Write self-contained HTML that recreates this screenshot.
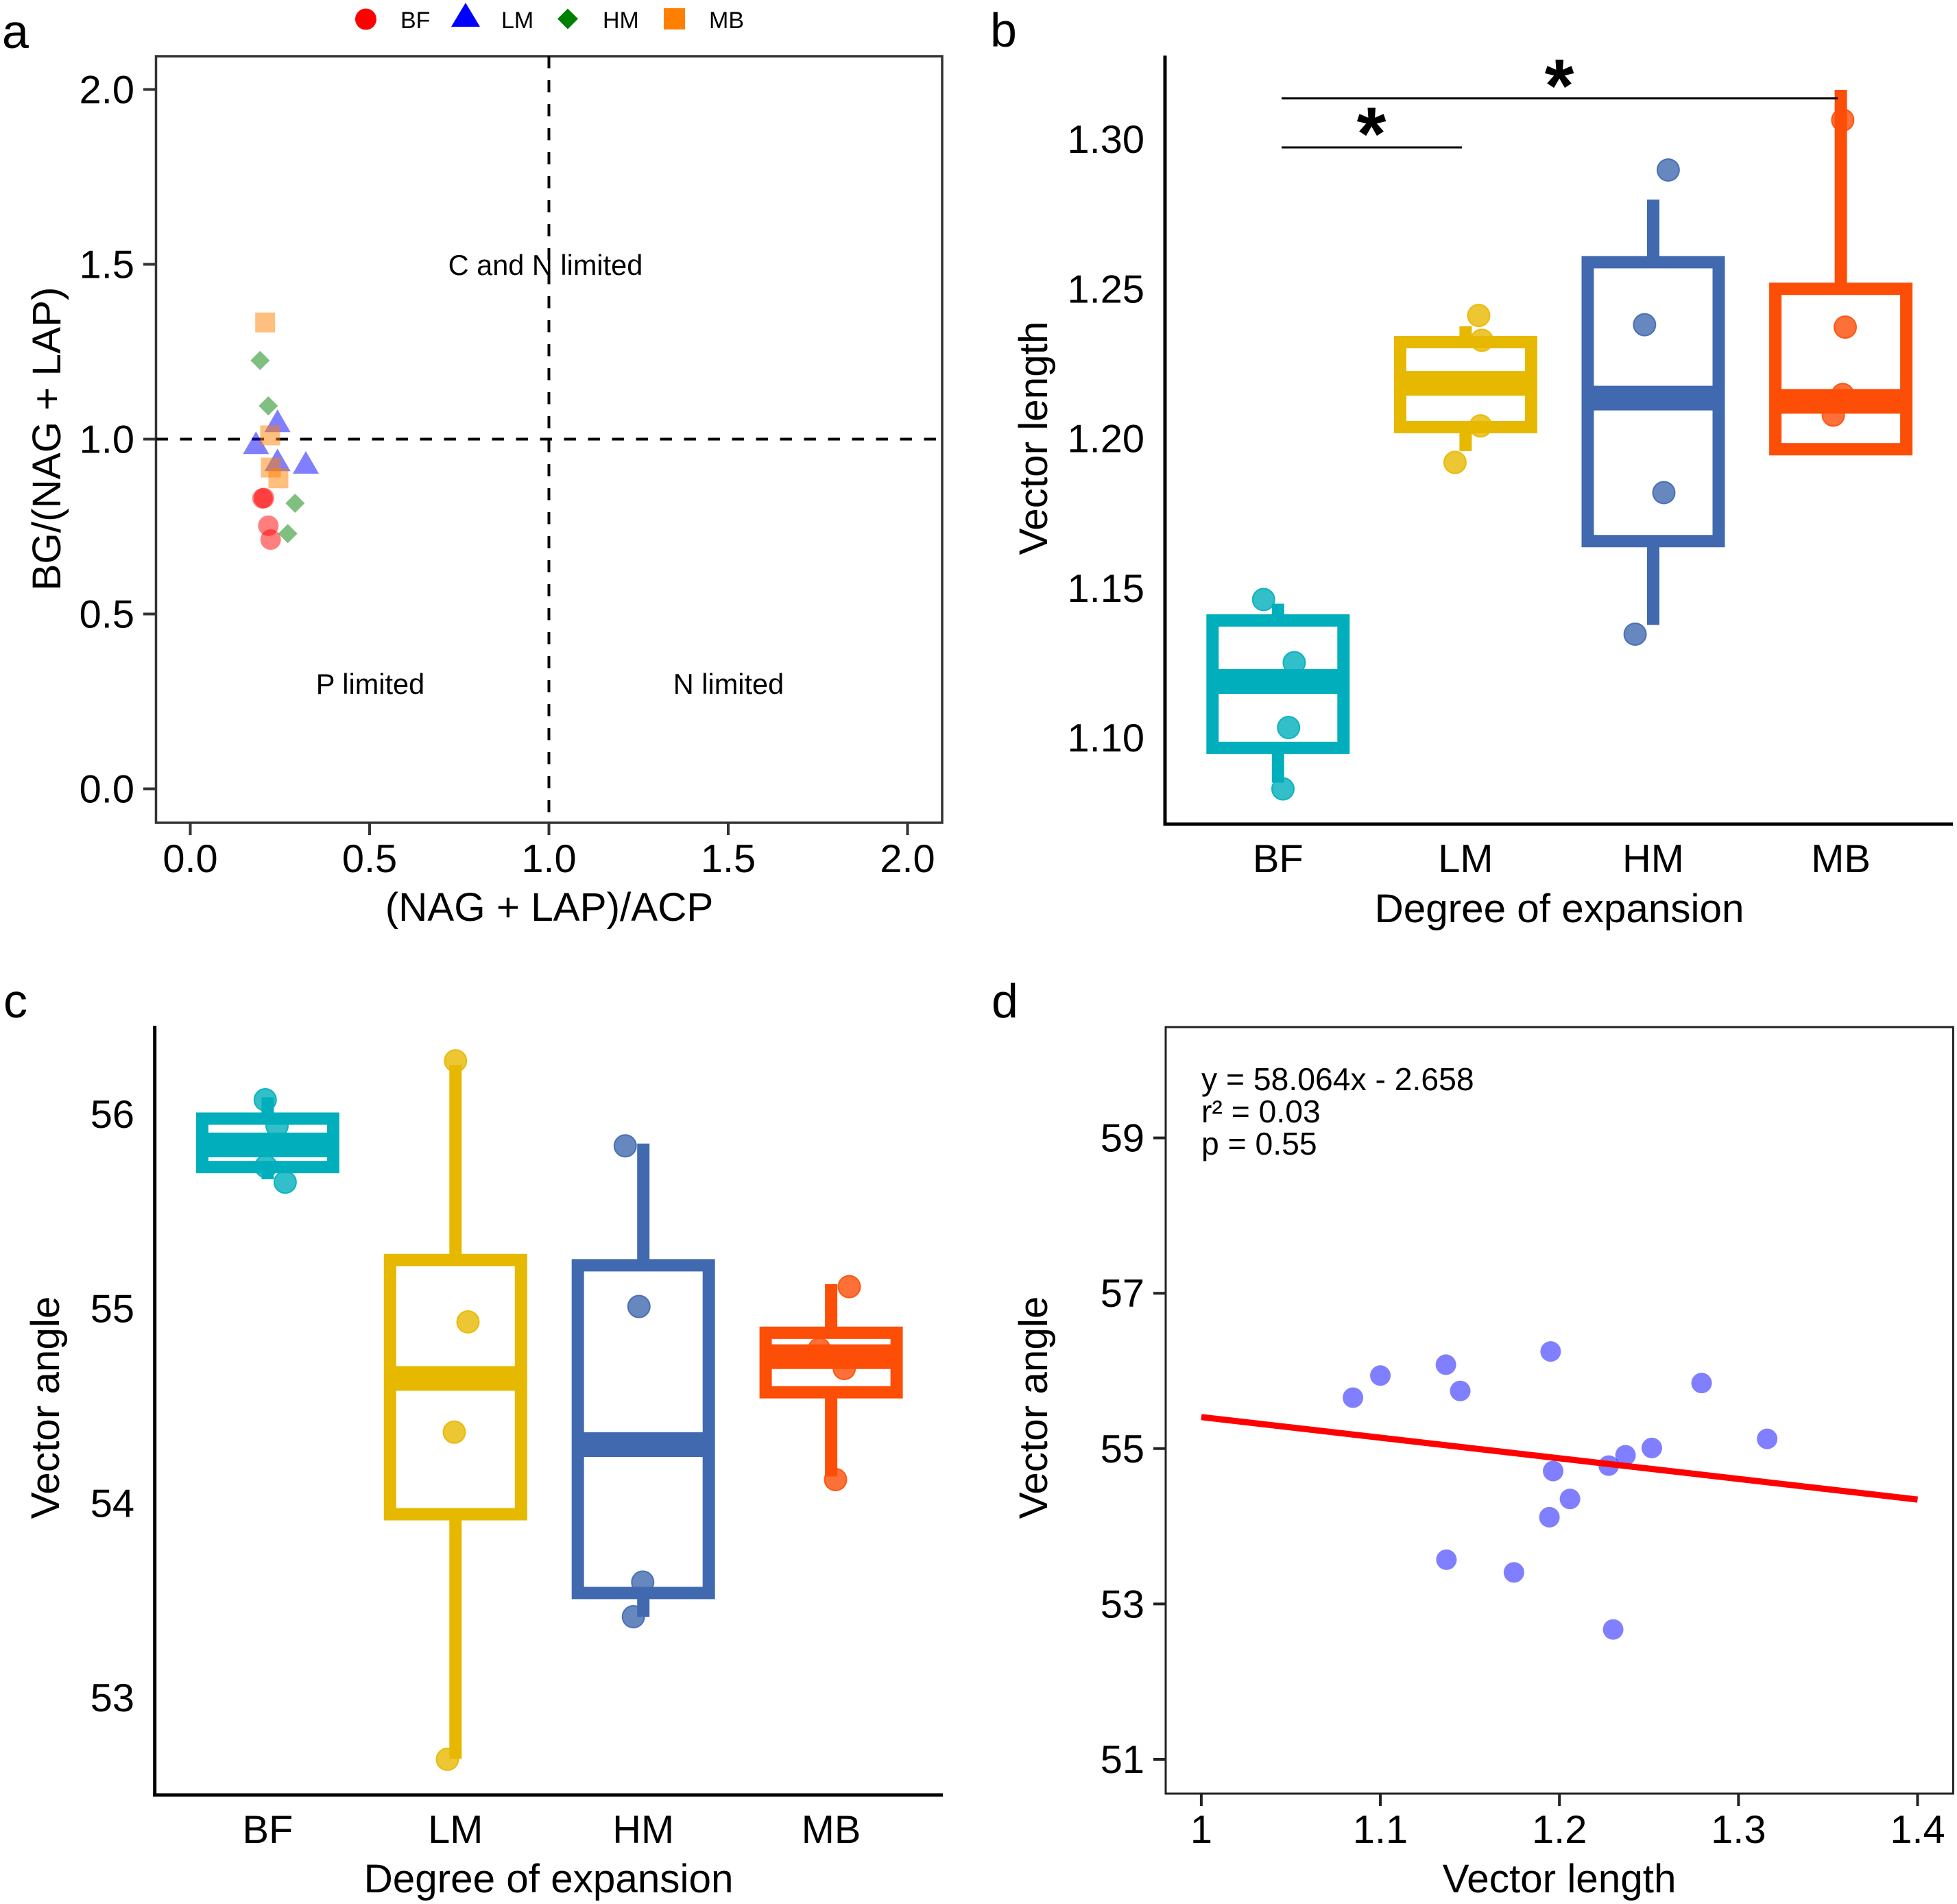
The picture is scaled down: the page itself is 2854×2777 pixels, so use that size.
<!DOCTYPE html>
<html lang="en">
<head>
<meta charset="utf-8">
<title>Enzyme stoichiometry and vector analysis</title>
<style>
html,body{margin:0;padding:0;background:#fff;}
svg{display:block;}
text{font-family:"Liberation Sans",Arial,sans-serif;fill:#000;}
</style>
</head>
<body>
<svg id="chart" xmlns="http://www.w3.org/2000/svg" width="2854" height="2777" viewBox="0 0 2854 2777">
<rect x="0" y="0" width="2854" height="2777" fill="#fff"/>
<g id="pa"></g>
<g id="pb"></g>
<g id="pc"></g>
<g id="pd"></g>
<text x="3" y="70" font-size="70">a</text>
<text x="1444" y="68" font-size="70">b</text>
<text x="5" y="1484" font-size="70">c</text>
<text x="1446" y="1484" font-size="70">d</text>
</svg>
<script>
// ---------- Panel a data ----------
const aTicks = [0, 0.5, 1, 1.5, 2];
const aTickLabels = ['0.0', '0.5', '1.0', '1.5', '2.0'];
const aBFx = [0.2015, 0.2055, 0.2176, 0.2241];
const aBFy = [0.8305, 0.8315, 0.7525, 0.7127];
const aLMx = [0.2432, 0.1832, 0.2432, 0.3222];
const aLMy = [1.0524, 0.9896, 0.9408, 0.9337];
const aHMx = [0.1946, 0.2176, 0.2922, 0.2719];
const aHMy = [1.2251, 1.0951, 0.8167, 0.7298];
const aMBx = [0.2088, 0.2228, 0.2247, 0.2457];
const aMBy = [1.3337, 1.0108, 0.9186, 0.8878];

// ---------- Box panels shared ----------
const categories = ['BF', 'LM', 'HM', 'MB'];
const boxColors = ['#00AFBB', '#E7B800', '#4169AF', '#FC4E07'];

// ---------- Panel b data ----------
const bTicks = [1.10, 1.15, 1.20, 1.25, 1.30];
const bTickLabels = ['1.10', '1.15', '1.20', '1.25', '1.30'];
const bQ1 = [1.0966, 1.2038, 1.1657, 1.1964];
const bMedian = [1.1188, 1.2184, 1.2135, 1.2124];
const bQ3 = [1.1392, 1.2322, 1.2589, 1.25];
const bLow = [1.085, 1.1958, 1.1377, 1.1964];
const bHigh = [1.1448, 1.2375, 1.2798, 1.3165];
const bPoints = [
  [1.1462, 1.1251, 1.1034, 1.0829],
  [1.2411, 1.2328, 1.2042, 1.192],
  [1.2897, 1.238, 1.1819, 1.1346],
  [1.3064, 1.2372, 1.2147, 1.2078]
];
const bJitter = [
  [-0.0768, 0.0863, 0.0563, 0.0263],
  [0.0698, 0.0866, 0.0797, -0.0566],
  [0.08, -0.0464, 0.0566, -0.0965],
  [0.01, 0.0234, 0.01, -0.04]
];

// ---------- Panel c data ----------
const cTicks = [53, 54, 55, 56];
const cTickLabels = ['53', '54', '55', '56'];
const cQ1 = [55.728, 53.943, 53.538, 54.57];
const cMedian = [55.842, 54.641, 54.301, 54.753];
const cQ3 = [55.977, 55.25, 55.223, 54.876];
const cLow = [55.665, 52.686, 53.415, 54.137];
const cHigh = [56.087, 56.252, 55.849, 55.126];
const cPoints = [
  [56.074, 55.94, 55.731, 55.65],
  [56.274, 54.932, 54.365, 52.683],
  [55.837, 55.011, 53.594, 53.416],
  [55.113, 54.792, 54.692, 54.121]
];
const cJitter = [
  [-0.0131, 0.0497, -0.0098, 0.0931],
  [0, 0.0664, -0.0066, -0.0431],
  [-0.0964, -0.0234, -0.0033, -0.0529],
  [0.0964, -0.0632, 0.0697, 0.0234]
];

// ---------- Panel d data ----------
const dXTicks = [1, 1.1, 1.2, 1.3, 1.4];
const dXTickLabels = ['1', '1.1', '1.2', '1.3', '1.4'];
const dYTicks = [51, 53, 55, 57, 59];
const dYTickLabels = ['51', '53', '55', '57', '59'];
const dX = [1.0847, 1.1, 1.1366, 1.1446, 1.1951, 1.2794, 1.316, 1.2516, 1.2369, 1.2275, 1.1965, 1.2059, 1.1944, 1.1369, 1.1746, 1.23];
const dY = [55.656, 55.94, 56.08, 55.742, 56.25, 55.844, 55.125, 55.008, 54.914, 54.781, 54.711, 54.352, 54.117, 53.57, 53.406, 52.672];
const dFitX = [1, 1.4];
const dFitY = [55.406, 54.344];

// ---------- Scales ----------
const ax = v => 277.5 + v * 523;
const ay = v => 1150.5 - v * 510;
const bx = i => 1863.8 + i * 273.6;
const by = v => 1076 - (v - 1.1) * 4365;
const cx = i => 390.4 + i * 273.9;
const cy = v => 1625 + (56 - v) * 283.67;
const dx = v => 1751.9 + (v - 1) * 2611.5;
const dy = v => 2112.8 - (v - 55) * 113.3;

// ---------- Helpers ----------
const NS = 'http://www.w3.org/2000/svg';
function mk(tag, attrs, parent, content) {
  const node = document.createElementNS(NS, tag);
  for (const k in attrs) node.setAttribute(k, attrs[k]);
  if (content !== undefined) node.textContent = content;
  parent.appendChild(node);
  return node;
}
const pa = document.getElementById('pa');
const pb = document.getElementById('pb');
const pc = document.getElementById('pc');
const pd = document.getElementById('pd');
const FS = 57.8;
const TITLE_FS = 58.4;
const CAP = 20;

function yTitle(parent, label, x, y, name) {
  const el = mk('text', {x: x, y: y, 'font-size': TITLE_FS, 'text-anchor': 'middle', transform: 'rotate(-90 ' + x + ' ' + y + ')'}, parent, label);
  
  
}
function xTitle(parent, label, x, y, name) {
  const el = mk('text', {x: x, y: y, 'font-size': TITLE_FS, 'text-anchor': 'middle'}, parent, label);
  
  
}
function tickLabel(parent, label, x, y, anchor, name) {
  const el = mk('text', {x: x, y: y, 'font-size': FS, 'text-anchor': anchor}, parent, label);
  
  
}
function tickMark(parent, x1, y1, x2, y2, color, name) {
  const el = mk('line', {x1: x1, y1: y1, x2: x2, y2: y2, stroke: color, 'stroke-width': 4}, parent);
  
  
}
function triPoints(x, y, w, h) {
  return (x - w / 2) + ',' + (y + h / 2) + ' ' + x + ',' + (y - h / 2) + ' ' + (x + w / 2) + ',' + (y + h / 2);
}
function diaPoints(x, y, r) {
  return (x - r) + ',' + y + ' ' + x + ',' + (y - r) + ' ' + (x + r) + ',' + y + ' ' + x + ',' + (y + r);
}

// ---------- Panel a ----------
(function () {
  const frame = mk('rect', {x: 227.5, y: 82, width: 1146.5, height: 1118, fill: 'none', stroke: '#333', 'stroke-width': 3.5}, pa);
  
  
  aTicks.forEach((t, i) => {
    tickMark(pa, ax(t), 1200, ax(t), 1218, '#333', 'x-tick-a');
    tickMark(pa, 209, ay(t), 227.5, ay(t), '#333', 'y-tick-a');
    tickLabel(pa, aTickLabels[i], ax(t), 1272, 'middle', 'x-tick-label-a');
    tickLabel(pa, aTickLabels[i], 196, ay(t) + CAP, 'end', 'y-tick-label-a');
  });
  const vline = mk('line', {x1: ax(1), y1: 82, x2: ax(1), y2: 1200, stroke: '#000', 'stroke-width': 4, 'stroke-dasharray': '17.5 17.5'}, pa);
  
  
  const hline = mk('line', {x1: 227.5, y1: ay(1), x2: 1374, y2: ay(1), stroke: '#000', 'stroke-width': 4, 'stroke-dasharray': '17.5 17.5'}, pa);
  
  

  [['C and N limited', 795.5, 401], ['P limited', 540, 1012], ['N limited', 1062.5, 1012]].forEach(q => {
    const el = mk('text', {x: q[1], y: q[2], 'font-size': 41.5, 'text-anchor': 'middle'}, pa, q[0]);
    
    
  });

  aBFx.forEach((v, i) => {
    const el = mk('circle', {cx: ax(v), cy: ay(aBFy[i]), r: 15, fill: '#ff0000', 'fill-opacity': 0.5}, pa);
    
    
  });
  aLMx.forEach((v, i) => {
    const el = mk('polygon', {points: triPoints(ax(v), ay(aLMy[i]), 38, 33), fill: '#0000ff', 'fill-opacity': 0.5}, pa);
    
    
  });
  aHMx.forEach((v, i) => {
    const el = mk('polygon', {points: diaPoints(ax(v), ay(aHMy[i]), 14), fill: '#008000', 'fill-opacity': 0.5}, pa);
    
    
  });
  aMBx.forEach((v, i) => {
    const el = mk('rect', {x: ax(v) - 14.5, y: ay(aMBy[i]) - 14.5, width: 29, height: 29, fill: '#ff7f00', 'fill-opacity': 0.5}, pa);
    
    
  });

  xTitle(pa, '(NAG + LAP)/ACP', 801, 1343, 'x-axis-title-a');
  yTitle(pa, 'BG/(NAG + LAP)', 88, 640, 'y-axis-title-a');

  const lc = mk('circle', {cx: 533.5, cy: 28, r: 15.5, fill: '#ff0000'}, pa);
  
  
  const lt = mk('polygon', {points: '658,39 679,4 700,39', fill: '#0000ff'}, pa);
  
  
  const ld = mk('polygon', {points: diaPoints(828, 27.5, 15), fill: '#008000'}, pa);
  
  
  const ls = mk('rect', {x: 968, y: 12, width: 31, height: 31, fill: '#ff7f00'}, pa);
  
  
  [['BF', 584], ['LM', 731], ['HM', 879], ['MB', 1034]].forEach(q => {
    const el = mk('text', {x: q[1], y: 41, 'font-size': 34}, pa, q[0]);
    
    
  });
})();

// ---------- Box plot drawing ----------
function drawBoxes(parent, xf, yf, q1, med, q3, low, high, pts, jit, spacing) {
  categories.forEach((c, i) => {
    const x = xf(i), col = boxColors[i];
    const wh = mk('line', {x1: x, y1: yf(q3[i]), x2: x, y2: yf(high[i]), stroke: col, 'stroke-width': 18}, parent);
    
    
    const wl = mk('line', {x1: x, y1: yf(q1[i]), x2: x, y2: yf(low[i]), stroke: col, 'stroke-width': 18}, parent);
    
    
    const box = mk('rect', {x: x - 95.5, y: yf(q3[i]), width: 191, height: yf(q1[i]) - yf(q3[i]), fill: '#fff', stroke: col, 'stroke-width': 18}, parent);
    
    
    const mline = mk('line', {x1: x - 95.5, y1: yf(med[i]), x2: x + 95.5, y2: yf(med[i]), stroke: col, 'stroke-width': 36}, parent);
    
    
    pts[i].forEach((v, j) => {
      const dot = mk('circle', {cx: x + jit[i][j] * spacing, cy: yf(v), r: 16, fill: col, 'fill-opacity': 0.8, stroke: col, 'stroke-opacity': 0.9, 'stroke-width': 2}, parent);
      
      
    });
    tickLabel(parent, c, x, parent === pb ? 1272 : 2688, 'middle', 'category-label');
  });
}

// ---------- Panel b ----------
(function () {
  drawBoxes(pb, bx, by, bQ1, bMedian, bQ3, bLow, bHigh, bPoints, bJitter, 273.6);
  const ya = mk('line', {x1: 1699, y1: 81, x2: 1699, y2: 1202, stroke: '#000', 'stroke-width': 5}, pb);
  
  
  const xa = mk('line', {x1: 1696.5, y1: 1202, x2: 2848, y2: 1202, stroke: '#000', 'stroke-width': 5}, pb);
  
  
  bTicks.forEach((t, i) => {
    tickLabel(pb, bTickLabels[i], 1669, by(t) + CAP, 'end', 'y-tick-label-b');
  });
  const s1 = mk('line', {x1: 1869, y1: 143.5, x2: 2680, y2: 143.5, stroke: '#000', 'stroke-width': 3}, pb);
  
  
  const s2 = mk('line', {x1: 1869, y1: 215, x2: 2132, y2: 215, stroke: '#000', 'stroke-width': 3}, pb);
  
  
  const st1 = mk('text', {x: 2274, y: 163, 'font-size': 110, 'font-weight': 'bold', 'text-anchor': 'middle'}, pb, '*');
  
  
  const st2 = mk('text', {x: 2000, y: 233, 'font-size': 110, 'font-weight': 'bold', 'text-anchor': 'middle'}, pb, '*');
  
  
  xTitle(pb, 'Degree of expansion', 2274, 1345, 'x-axis-title-b');
  yTitle(pb, 'Vector length', 1527, 639, 'y-axis-title-b');
})();

// ---------- Panel c ----------
(function () {
  drawBoxes(pc, cx, cy, cQ1, cMedian, cQ3, cLow, cHigh, cPoints, cJitter, 273.9);
  const ya = mk('line', {x1: 225.7, y1: 1496, x2: 225.7, y2: 2618, stroke: '#000', 'stroke-width': 5}, pc);
  
  
  const xa = mk('line', {x1: 223, y1: 2618, x2: 1375, y2: 2618, stroke: '#000', 'stroke-width': 5}, pc);
  
  
  cTicks.forEach((t, i) => {
    tickLabel(pc, cTickLabels[i], 196, cy(t) + CAP, 'end', 'y-tick-label-c');
  });
  xTitle(pc, 'Degree of expansion', 800, 2760, 'x-axis-title-c');
  yTitle(pc, 'Vector angle', 86, 2053, 'y-axis-title-c');
})();

// ---------- Panel d ----------
(function () {
  const frame = mk('rect', {x: 1700, y: 1498, width: 1148.4, height: 1118, fill: 'none', stroke: '#222', 'stroke-width': 3}, pd);
  
  
  dXTicks.forEach((t, i) => {
    tickMark(pd, dx(t), 2616, dx(t), 2634, '#222', 'x-tick-d');
    tickLabel(pd, dXTickLabels[i], dx(t), 2688, 'middle', 'x-tick-label-d');
  });
  dYTicks.forEach((t, i) => {
    tickMark(pd, 1682, dy(t), 1700, dy(t), '#222', 'y-tick-d');
    tickLabel(pd, dYTickLabels[i], 1669, dy(t) + CAP, 'end', 'y-tick-label-d');
  });
  dX.forEach((v, i) => {
    const el = mk('circle', {cx: dx(v), cy: dy(dY[i]), r: 15, fill: '#0000ff', 'fill-opacity': 0.5}, pd);
    
    
  });
  const fit = mk('line', {x1: dx(dFitX[0]), y1: dy(dFitY[0]), x2: dx(dFitX[1]), y2: dy(dFitY[1]), stroke: '#ff0000', 'stroke-width': 9}, pd);
  
  
  [['y = 58.064x - 2.658', 1590], ['r² = 0.03', 1637], ['p = 0.55', 1684]].forEach(q => {
    const el = mk('text', {x: 1752, y: q[1], 'font-size': 46.3}, pd, q[0]);
    
    
  });
  xTitle(pd, 'Vector length', 2274, 2760, 'x-axis-title-d');
  yTitle(pd, 'Vector angle', 1527, 2053, 'y-axis-title-d');
})();
</script>
</body>
</html>
